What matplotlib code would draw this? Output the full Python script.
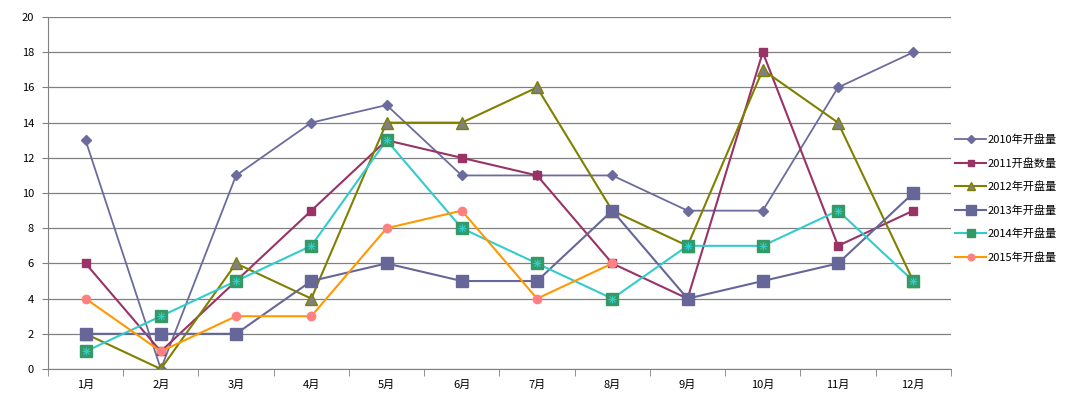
import matplotlib
import numpy as np

matplotlib.use("Agg")

from matplotlib import pyplot as plt

plt.rcParams["font.family"] = ["Noto Sans CJK SC", "DejaVu Sans"]

months = ["1月", "2月", "3月", "4月", "5月", "6月", "7月", "8月", "9月", "10月", "11月", "12月"]
labels = ["2010年开盘量", "2011开盘数量", "2012年开盘量", "2013年开盘量", "2014年开盘量", "2015年开盘量"]
y2010 = [13, 0, 11, 14, 15, 11, 11, 11, 9, 9, 16, 18]
y2011 = [6, 1, 5, 9, 13, 12, 11, 6, 4, 18, 7, 9]
y2012 = [2, 0, 6, 4, 14, 14, 16, 9, 7, 17, 14, 5]
y2013 = [2, 2, 2, 5, 6, 5, 5, 9, 4, 5, 6, 10]
y2014 = [1, 3, 5, 7, 13, 8, 6, 4, 7, 7, 9, 5]
y2015 = [4, 1, 3, 3, 8, 9, 4, 6]

styles = [
    dict(color="#6B6B9E", marker="D", ms=5, mfc="#6B6B9E", mec="#6B6B9E", lw=1.3),
    dict(color="#993366", marker="s", ms=6, mfc="#993366", mec="#993366", lw=1.5),
    dict(color="#808000", marker="^", ms=8, mfc="#808080", mec="#808000", lw=1.5),
    dict(color="#666699", marker="s", ms=9, mfc="#666699", mec="#666699", lw=1.5),
    dict(color="#33CCCC", marker="s", ms=8, mfc="#339966", mec="#339966", lw=1.5),
    dict(color="#FF9900", marker="o", ms=6, mfc="#FF8080", mec="#FF8080", lw=1.5),
]

fig = plt.figure(figsize=(10.73, 3.97), dpi=100)
ax = fig.add_axes([0.0447, 0.0705, 0.8415, 0.8865])

series = [y2010, y2011, y2012, y2013, y2014, y2015]
handles = []
for values, label, style in zip(series, labels, styles):
    x = np.arange(1, len(values) + 1)
    (h,) = ax.plot(x, values, label=label, **style)
    handles.append(h)
    if label.startswith("2014"):
        # cyan asterisk inside the green square markers
        ax.plot(x, values, ls="none", marker="x", ms=4.5, mew=0.8, color="#33CCCC")
        ax.plot(x, values, ls="none", marker="+", ms=5.5, mew=0.8, color="#33CCCC")

ax.set_xlim(0.5, 12.5)
ax.set_ylim(0, 20)
ax.set_yticks(range(0, 21, 2))
ax.set_xticks(range(1, 13))
ax.set_xticklabels(months)
ax.set_xticks(np.arange(0.5, 13, 1), minor=True)
ax.tick_params(axis="x", which="major", length=0, pad=8, labelsize=8)
ax.tick_params(axis="x", which="minor", length=5, color="#808080", direction="out")
ax.tick_params(axis="y", length=4, color="#808080", direction="out", labelsize=8, pad=6)
ax.yaxis.grid(True, color="#808080", lw=0.9)
ax.set_axisbelow(True)
for side in ["top", "right"]:
    ax.spines[side].set_visible(False)
for side in ["left", "bottom"]:
    ax.spines[side].set_color("#808080")

fig.legend(
    handles=handles,
    loc="center left",
    bbox_to_anchor=(0.881, 0.50),
    frameon=False,
    fontsize=8,
    handlelength=2.8,
    handletextpad=0.1,
    labelspacing=1.15,
    markerscale=0.8,
)

fig.savefig("out.png", dpi=100)
